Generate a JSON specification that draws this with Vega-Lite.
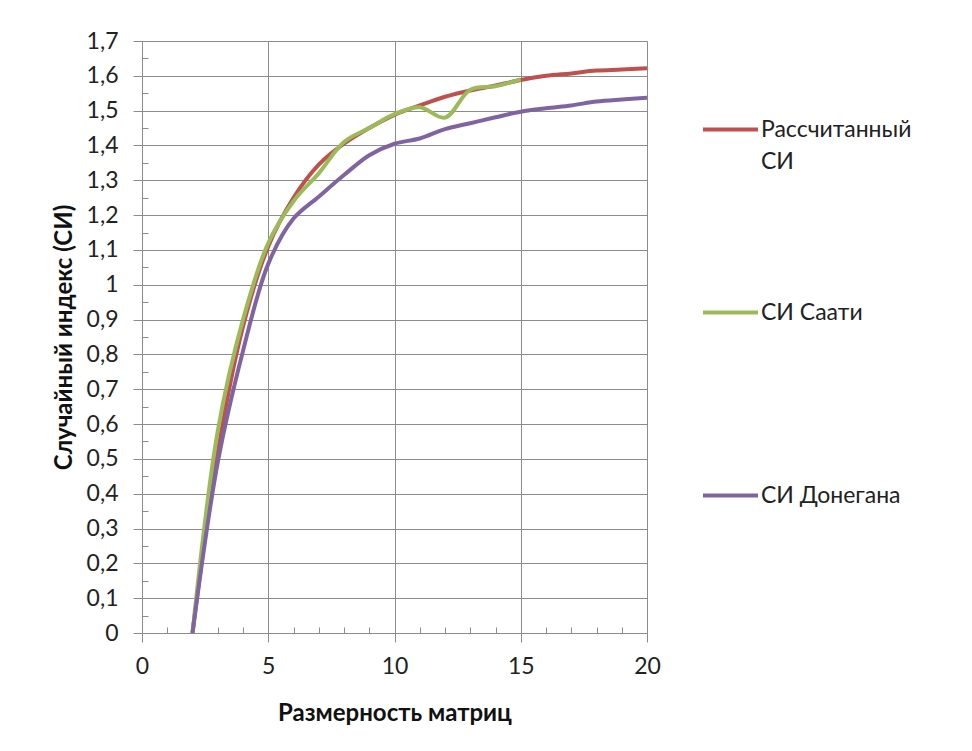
{
  "$schema": "https://vega.github.io/schema/vega-lite/v6.json",
  "width": 505,
  "height": 592,
  "autosize": {"type": "none"},
  "padding": {"left": 142, "top": 41, "right": 325, "bottom": 118},
  "background": "white",
  "config": {
    "view": {"stroke": null},
    "font": "Lato"
  },
  "data": {
    "values": [
      {"n": 2, "ri": 0, "series": "Рассчитанный СИ"},
      {"n": 3, "ri": 0.52, "series": "Рассчитанный СИ"},
      {"n": 4, "ri": 0.88, "series": "Рассчитанный СИ"},
      {"n": 5, "ri": 1.11, "series": "Рассчитанный СИ"},
      {"n": 6, "ri": 1.25, "series": "Рассчитанный СИ"},
      {"n": 7, "ri": 1.345, "series": "Рассчитанный СИ"},
      {"n": 8, "ri": 1.405, "series": "Рассчитанный СИ"},
      {"n": 9, "ri": 1.45, "series": "Рассчитанный СИ"},
      {"n": 10, "ri": 1.488, "series": "Рассчитанный СИ"},
      {"n": 11, "ri": 1.515, "series": "Рассчитанный СИ"},
      {"n": 12, "ri": 1.54, "series": "Рассчитанный СИ"},
      {"n": 13, "ri": 1.558, "series": "Рассчитанный СИ"},
      {"n": 14, "ri": 1.572, "series": "Рассчитанный СИ"},
      {"n": 15, "ri": 1.588, "series": "Рассчитанный СИ"},
      {"n": 16, "ri": 1.6, "series": "Рассчитанный СИ"},
      {"n": 17, "ri": 1.607, "series": "Рассчитанный СИ"},
      {"n": 18, "ri": 1.615, "series": "Рассчитанный СИ"},
      {"n": 19, "ri": 1.618, "series": "Рассчитанный СИ"},
      {"n": 20, "ri": 1.622, "series": "Рассчитанный СИ"},
      {"n": 2, "ri": 0, "series": "СИ Саати"},
      {"n": 3, "ri": 0.58, "series": "СИ Саати"},
      {"n": 4, "ri": 0.9, "series": "СИ Саати"},
      {"n": 5, "ri": 1.12, "series": "СИ Саати"},
      {"n": 6, "ri": 1.24, "series": "СИ Саати"},
      {"n": 7, "ri": 1.32, "series": "СИ Саати"},
      {"n": 8, "ri": 1.41, "series": "СИ Саати"},
      {"n": 9, "ri": 1.45, "series": "СИ Саати"},
      {"n": 10, "ri": 1.49, "series": "СИ Саати"},
      {"n": 11, "ri": 1.51, "series": "СИ Саати"},
      {"n": 12, "ri": 1.48, "series": "СИ Саати"},
      {"n": 13, "ri": 1.56, "series": "СИ Саати"},
      {"n": 14, "ri": 1.57, "series": "СИ Саати"},
      {"n": 15, "ri": 1.59, "series": "СИ Саати"},
      {"n": 2, "ri": 0, "series": "СИ Донегана"},
      {"n": 3, "ri": 0.49, "series": "СИ Донегана"},
      {"n": 4, "ri": 0.81, "series": "СИ Донегана"},
      {"n": 5, "ri": 1.06, "series": "СИ Донегана"},
      {"n": 6, "ri": 1.19, "series": "СИ Донегана"},
      {"n": 7, "ri": 1.253, "series": "СИ Донегана"},
      {"n": 8, "ri": 1.315, "series": "СИ Донегана"},
      {"n": 9, "ri": 1.372, "series": "СИ Донегана"},
      {"n": 10, "ri": 1.405, "series": "СИ Донегана"},
      {"n": 11, "ri": 1.42, "series": "СИ Донегана"},
      {"n": 12, "ri": 1.447, "series": "СИ Донегана"},
      {"n": 13, "ri": 1.464, "series": "СИ Донегана"},
      {"n": 14, "ri": 1.481, "series": "СИ Донегана"},
      {"n": 15, "ri": 1.497, "series": "СИ Донегана"},
      {"n": 16, "ri": 1.507, "series": "СИ Донегана"},
      {"n": 17, "ri": 1.515, "series": "СИ Донегана"},
      {"n": 18, "ri": 1.526, "series": "СИ Донегана"},
      {"n": 19, "ri": 1.532, "series": "СИ Донегана"},
      {"n": 20, "ri": 1.537, "series": "СИ Донегана"}
    ]
  },
  "mark": {"type": "line", "interpolate": "catmull-rom", "strokeWidth": 4, "clip": true},
  "encoding": {
    "x": {
      "field": "n",
      "type": "quantitative",
      "scale": {"domain": [0, 20], "nice": false, "zero": true},
      "axis": {
        "values": [0,1,2,3,4,5,6,7,8,9,10,11,12,13,14,15,16,17,18,19,20],
        "labelExpr": "datum.value % 5 == 0 ? datum.label : ''",
        "grid": true,
        "gridColor": "#8c8c8c",
        "gridWidth": 1,
        "gridOpacity": {"condition": {"test": "datum.value % 5 == 0", "value": 1}, "value": 0},
        "tickSize": {"condition": {"test": "datum.value % 5 == 0", "value": 9}, "value": -6},
        "tickColor": "#8c8c8c",
        "domainColor": "#8c8c8c",
        "labelColor": "#222222",
        "labelFontSize": 23,
        "labelPadding": 13,
        "labelFlush": false,
        "labelOverlap": false,
        "title": "Размерность матриц",
        "titleFontSize": 24,
        "titleFontWeight": "bold",
        "titleColor": "#111111",
        "titlePadding": 23
      }
    },
    "y": {
      "field": "ri",
      "type": "quantitative",
      "scale": {"domain": [0, 1.7], "nice": false},
      "axis": {
        "values": [0,0.05,0.1,0.15,0.2,0.25,0.3,0.35,0.4,0.45,0.5,0.55,0.6,0.65,0.7,0.75,0.8,0.85,0.9,0.95,1,1.05,1.1,1.15,1.2,1.25,1.3,1.35,1.4,1.45,1.5,1.55,1.6,1.65,1.7],
        "labelExpr": "round(datum.value*20) % 2 == 0 ? replace(toString(round(datum.value*10)/10), '.', ',') : ''",
        "grid": true,
        "gridColor": "#8c8c8c",
        "gridWidth": 1,
        "gridOpacity": {"condition": {"test": "round(datum.value*20) % 2 == 0", "value": 1}, "value": 0},
        "tickSize": {"condition": {"test": "round(datum.value*20) % 2 == 0", "value": 9}, "value": -6},
        "tickColor": "#8c8c8c",
        "domainColor": "#8c8c8c",
        "labelColor": "#222222",
        "labelFontSize": 23,
        "labelPadding": 15,
        "labelFlush": false,
        "labelOverlap": false,
        "title": "Случайный индекс (СИ)",
        "titleFontSize": 24,
        "titleFontWeight": "bold",
        "titleColor": "#111111",
        "titlePadding": 10
      }
    },
    "color": {
      "field": "series",
      "type": "nominal",
      "scale": {
        "domain": ["Рассчитанный СИ", "СИ Саати", "СИ Донегана"],
        "range": ["#C0504D", "#9BBB59", "#8064A2"]
      },
      "legend": {
        "title": null,
        "orient": "none",
        "legendX": 559,
        "legendY": 59,
        "padding": 0,
        "gridAlign": "all",
        "symbolType": "stroke",
        "symbolSize": 3025,
        "symbolStrokeWidth": 4,
        "labelFontSize": 23,
        "labelColor": "#222222",
        "labelOffset": 1,
        "labelLimit": 300,
        "rowPadding": 109,
        "labelExpr": "datum.label == 'Рассчитанный СИ' ? ['Рассчитанный', 'СИ'] : datum.label",
        "encode": {
          "labels": {
            "update": {
              "lineHeight": {"value": 32}
            }
          }
        }
      }
    }
  }
}
